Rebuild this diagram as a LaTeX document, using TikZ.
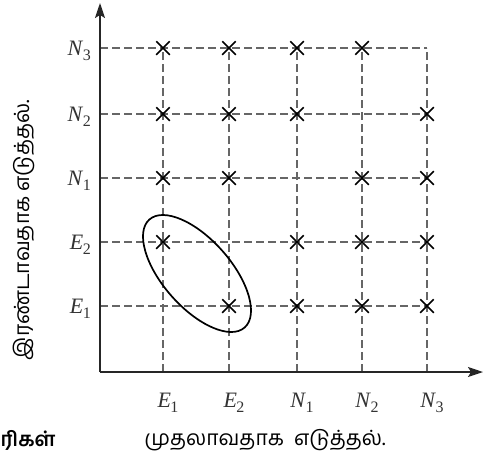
\documentclass[tikz,border=0pt]{standalone}
\usepackage{fontspec}
\setmainfont{Liberation Serif}
\newfontfamily\tamilfont[Script=Tamil]{Hind Madurai}
\usetikzlibrary{arrows.meta,shapes.misc}
\newcommand\axlab[2]{\textit{#1}\kern-0.5pt\raisebox{-0.55ex}{\fontsize{16}{16}\selectfont #2}}
\begin{document}
\begin{tikzpicture}[x=1pt,y=-1pt,
  grid/.style={draw=black!60,line width=1.1pt,dash pattern=on 8pt off 4pt},
  axis/.style={draw=black!85,line width=1.6pt,-{Stealth[length=15pt,width=10pt,inset=3pt]}},
  crossmk/.style={cross out,draw=black,line width=1.5pt,minimum size=12pt,inner sep=0pt},
  lab/.style={font=\fontsize{22}{22}\selectfont,text=black!80,inner sep=0pt},
  tamtxt/.style={font=\tamilfont\fontsize{21}{21}\selectfont,inner sep=0pt}]
\useasboundingbox (0,0) rectangle (497,459);
% origin and axes
\coordinate (O) at (100,372);
\coordinate (ytop) at (100,3);
\coordinate (xend) at (483,372);
% rows
\foreach \n/\y/\t/\s in {N3/48/N/3,N2/114/N/2,N1/178/N/1,E2/242/E/2,E1/306/E/1}{
  \coordinate (yl\n) at (100,\y);
  \coordinate (yr\n) at (427,\y);
  \draw[grid] (yl\n) -- (yr\n);
  \node[lab,anchor=base east] (ylab\n) at (91,\y+7) {\axlab{\t}{\s}};
}
% columns
\foreach \n/\x/\t/\s in {E1/163/E/1,E2/229/E/2,N1/297/N/1,N2/362/N/2,N3/427/N/3}{
  \coordinate (xb\n) at (\x,372);
  \coordinate (xt\n) at (\x,48);
  \draw[grid] (xb\n) -- (xt\n);
  \node[lab,anchor=base] (xlab\n) at (\x+5,407) {\axlab{\t}{\s}};
}
\draw[axis] (O) -- (ytop);
\draw[axis] (O) -- (xend);
% crosses
\foreach \x/\y [count=\i] in {163/48,229/48,297/48,362/48,
  163/114,229/114,297/114,427/114,
  163/178,229/178,362/178,427/178,
  163/242,297/242,362/242,427/242,
  229/306,297/306,362/306,427/306}{
  \node[crossmk] (c\i) at (\x,\y) {};
}
% ellipse
\draw[line width=1.7pt] (197,273.5) ellipse[x radius=72pt,y radius=34pt,rotate=-48.6];
% texts
\node[tamtxt,rotate=90] (vt) at (24,230) {இரண்டாவதாக எடுத்தல்.};
\node[tamtxt] (ht) at (265,440) {முதலாவதாக\ \ எடுத்தல்.};
\node[tamtxt,font=\tamilfont\bfseries\fontsize{20}{20}\selectfont,anchor=west] (lt) at (0.5,440) {ரிகள்};
\end{tikzpicture}
\end{document}
